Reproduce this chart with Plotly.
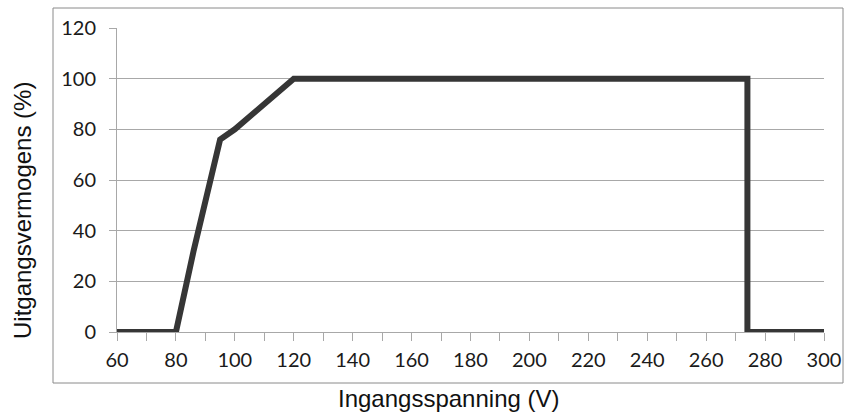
import plotly.graph_objects as go

voltage = [60, 80, 86, 95, 100, 110, 120, 274, 274, 300]
output_pct = [0, 0, 32, 76, 80, 90, 100, 100, 0, 0]
x_ticks = list(range(60, 301, 20))
y_ticks = list(range(0, 121, 20))

W, H = 844, 416
L, R, T, B = 117, 20, 28, 84
pw, ph = W - L - R, H - T - B

def px(xpix):
    return (xpix - L) / pw

def py(ypix):
    return (H - B - ypix) / ph

fig = go.Figure()
fig.add_trace(go.Scatter(
    x=voltage, y=output_pct, mode="lines",
    line=dict(color="#363636", width=6),
    hoverinfo="skip", showlegend=False,
))

grid = "#a8a8a8"
tickfont = dict(family="Lato, 'Open Sans', sans-serif", size=20, color="#1a1a1a")
fig.update_layout(
    width=W, height=H,
    margin=dict(l=L, r=R, t=T, b=B, autoexpand=False),
    paper_bgcolor="white", plot_bgcolor="white",
    xaxis=dict(
        range=[60, 300], tickvals=x_ticks, ticks="outside", ticklen=8,
        tickcolor=grid, tickwidth=1, showgrid=False, zeroline=False,
        showline=True, linecolor=grid, linewidth=1, tickfont=tickfont,
        automargin=False, ticklabelstandoff=2,
        minor=dict(dtick=10, tick0=60, ticks="outside", ticklen=8, tickcolor=grid, showgrid=False),
    ),
    yaxis=dict(
        range=[0, 120], tickvals=y_ticks, ticks="outside", ticklen=7,
        tickcolor=grid, tickwidth=1, showgrid=True, gridcolor=grid, gridwidth=1,
        zeroline=False, showline=True, linecolor=grid, linewidth=1,
        tickfont=tickfont, ticklabelstandoff=9, automargin=False,
    ),
    shapes=[dict(
        type="rect", xref="paper", yref="paper",
        x0=px(53), x1=px(843), y0=py(383), y1=py(8),
        line=dict(color="#8a8a8a", width=1), fillcolor="rgba(0,0,0,0)", layer="below",
    )],
    annotations=[
        dict(text="Ingangsspanning (V)", xref="paper", yref="paper",
             x=px(448), y=py(398), showarrow=False, xanchor="center", yanchor="middle",
             font=dict(family="Liberation Sans, Arial, sans-serif", size=24, color="#111")),
        dict(text="Uitgangsvermogens (%)", xref="paper", yref="paper",
             x=px(22), y=py(211), showarrow=False, xanchor="center", yanchor="middle",
             textangle=-90,
             font=dict(family="Liberation Sans, Arial, sans-serif", size=24, color="#111")),
    ],
)

fig.write_html(
    "out.html",
    config={"displayModeBar": False},
    post_script="document.body.style.margin='0';document.body.style.overflow='hidden';",
)
